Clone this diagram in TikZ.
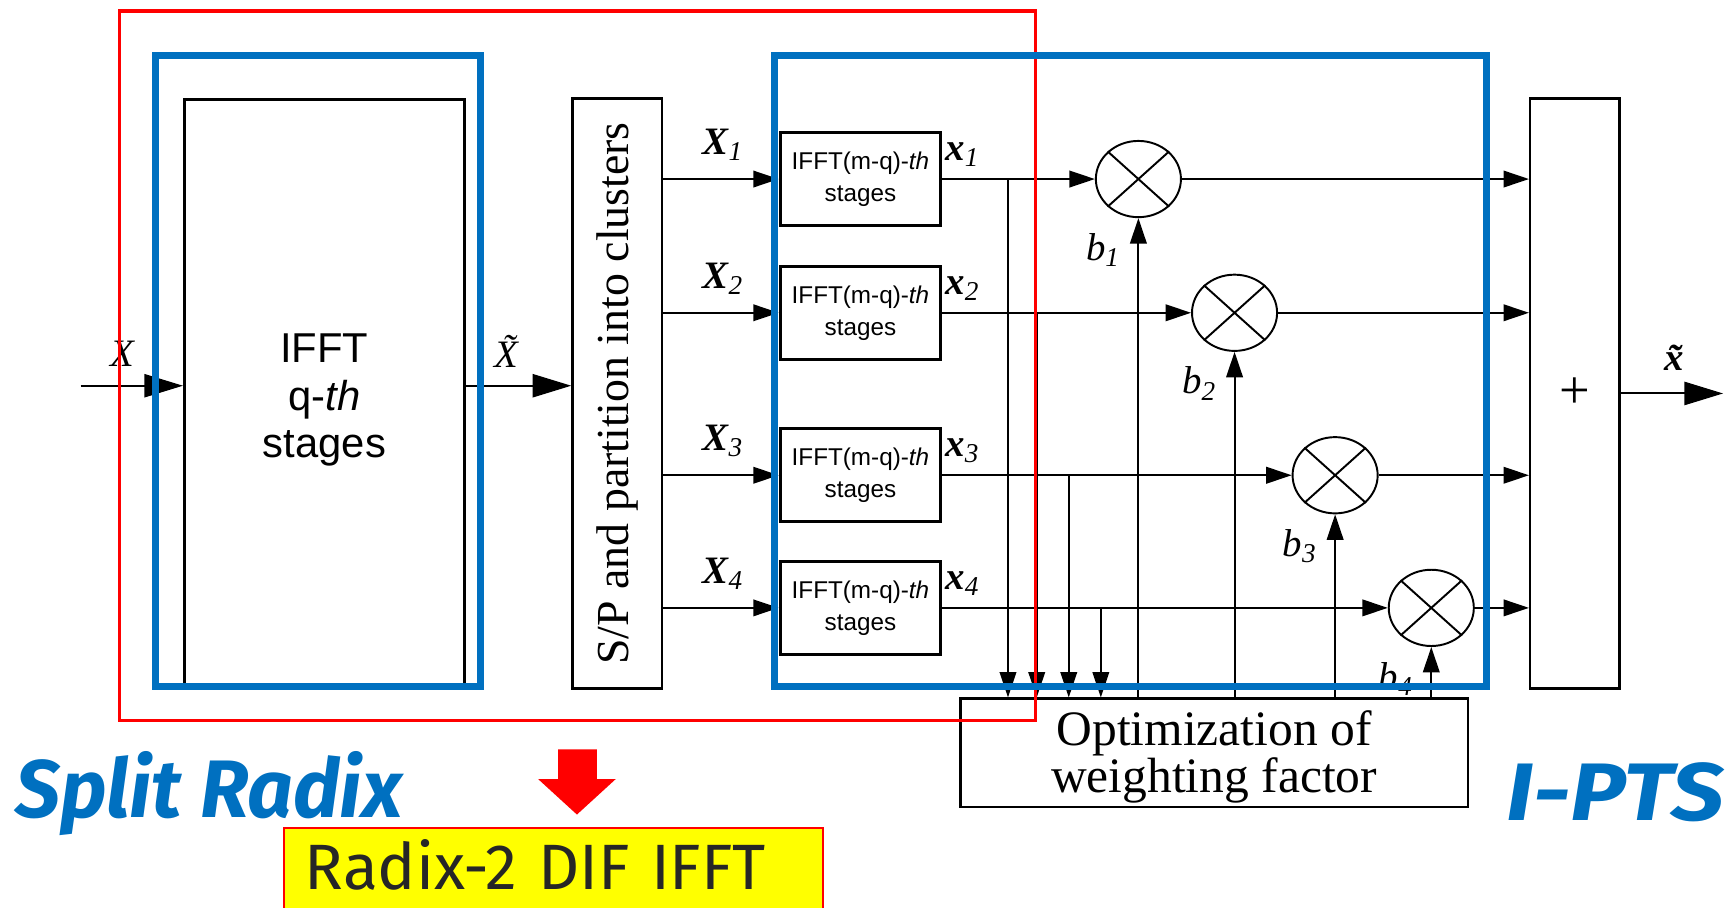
\documentclass[tikz,border=0pt]{standalone}
\usepackage{fontspec}
\setmainfont{Liberation Serif}
\newfontfamily\arialfont{Liberation Sans}
\newfontfamily\handfont{Fira Sans}
\usepackage{tikz}
\usetikzlibrary{positioning, arrows.meta, calc, shapes.geometric}
\usepackage{xcolor}
\definecolor{slideblue}{RGB}{0,112,192}
\definecolor{slidered}{RGB}{255,0,0}
\definecolor{slideyellow}{RGB}{255,255,0}
\newcommand{\sigl}[2]{{\bfseries\itshape #1}\textsubscript{\itshape #2}}

\begin{document}
\begin{tikzpicture}[x=0.02cm, y=-0.02cm, line width=1pt,
        sigarrow/.style={-{Triangle[length=0.46cm,width=0.3cm]}},
        bigarrow/.style={-{Triangle[length=0.7cm,width=0.42cm]}},
        block/.style={draw, line width=1.3pt, inner sep=0pt, align=center},
        subblock/.style={block, line width=1.7pt, minimum width=2.9cm, minimum height=1.68cm,
            font=\arialfont\fontsize{12.5}{16.5}\selectfont},
        mult/.style={draw, ellipse, minimum width=1.54cm, minimum height=1.38cm, inner sep=0pt},
        lbl/.style={font=\fontsize{20}{20}\selectfont, inner sep=0pt},
        bluebox/.style={draw=slideblue, line width=3.7pt},
        redbox/.style={draw=slidered, line width=1.8pt},
        hand/.style={font=\handfont\bfseries\itshape\fontsize{42}{42}\selectfont, text=slideblue, inner sep=0pt}]
  \useasboundingbox (0,0) rectangle (1568,821);

  \node[block, line width=1.7pt, minimum width=5.06cm, minimum height=10.62cm,
        font=\arialfont\fontsize{21.5}{24.4}\selectfont] (ifftq) at (293.5,355.5)
        {\rule{0pt}{22.4pt}IFFT\\q-\textit{th}\\stages};
  \node[block, minimum width=1.62cm, minimum height=10.68cm] (sp) at (558.5,356)
        {\rotatebox{90}{\fontsize{23.6}{23.6}\selectfont S/P and partition into clusters}};
  \node[block, minimum width=1.62cm, minimum height=10.68cm, font=\fontsize{28}{28}\selectfont] (sum) at (1425,356) {+};
  \node[block, line width=1.1pt, minimum width=9.18cm, minimum height=1.96cm,
        font=\fontsize{25.5}{23}\selectfont] (opt) at (1098.5,681)
        {\rule{0pt}{22pt}Optimization of\\weighting factor};

  \foreach \i/\y/\mx/\tx in {1/162/1030/912, 2/283/1117/938, 3/430/1208/967, 4/550/1295/996} {
    \node[subblock] (sub\i) at (778.5,\y) {IFFT(m-q)-\textit{th}\\stages};
    \node[mult] (m\i) at (\mx,\y) {};
    \draw (m\i.north west) -- (m\i.south east) (m\i.north east) -- (m\i.south west);
    \coordinate (tap\i) at (\tx,\y);
    \draw[sigarrow] (sp.east |- sub\i) -- (sub\i.west);
    \draw[sigarrow] (sub\i.east) -- (m\i.west);
    \draw[sigarrow] (m\i.east) -- (sum.west |- m\i);
    \draw[sigarrow] (tap\i) -- (tap\i |- opt.north);
    \draw[sigarrow] (m\i |- opt.north) -- (m\i.south);
    \node[lbl] at (654,\y-31) {\sigl{X}{\i}};
    \node[lbl, anchor=west] at ($(sub\i.east)+(2,-22)$) {\sigl{x}{\i}};
    \node[lbl] at ($(m\i)+(-32,64)$) {\textit{b}\textsubscript{\itshape\i}};
  }

  \coordinate (in) at (73,349);
  \coordinate (out) at (1559,356);
  \draw[bigarrow] (in) -- (ifftq.west |- in);
  \draw[bigarrow] (ifftq.east |- in) -- (sp.west |- in);
  \draw[bigarrow] (sum.east |- out) -- (out);
  \node[lbl] (xin) at (111,320) {\textit{X}};
  \node[lbl] (xt) at (458,318) {\itshape\~{X}};
  \node[lbl] (xout) at (1515,324) {\bfseries\itshape\~{x}};

  \draw[redbox] (108,10) rectangle (937,652);
  \draw[bluebox] (141,50) rectangle (435,621);
  \draw[bluebox] (701,50) rectangle (1345,621);

  \fill[slidered] (505,678) -- (540,678) -- (540,705) -- (557,705) -- (522,737) -- (487,705) -- (505,705) -- cycle;
  \node[draw=slidered, line width=1pt, fill=slideyellow, anchor=north west, text width=9.0cm, inner xsep=0.38cm,
        inner ysep=0.22cm, text depth=0.8cm, align=left, text=black!85,
        font=\handfont\fontsize{33}{33}\selectfont] (radix) at (256,748) {Radix-2 DIF IFFT};
  \node[hand, anchor=base west] (split) at (13,740) {\scalebox{0.98}[1]{Split Radix}};
  \node[hand, anchor=base east] (ipts) at (1561,742) {\scalebox{1.15}[1]{I-PTS}};
\end{tikzpicture}
\end{document}
